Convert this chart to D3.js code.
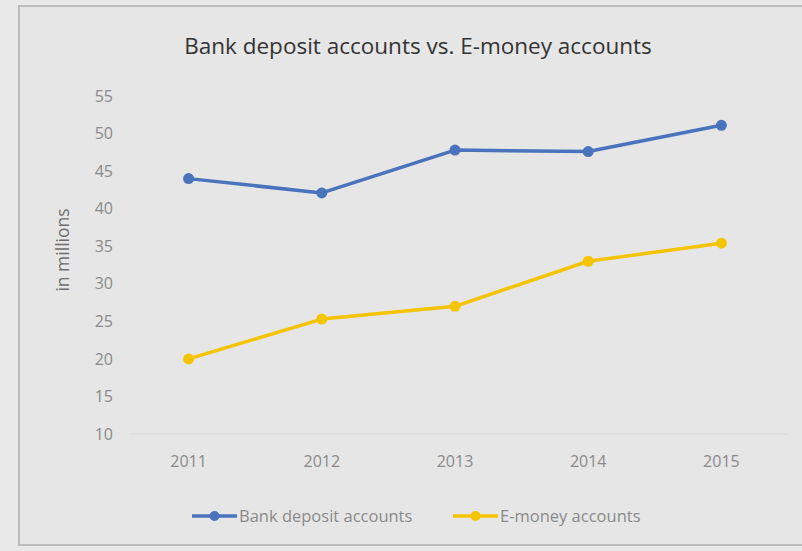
<!DOCTYPE html>
<html>
<head>
<meta charset="utf-8">
<script src="https://cdn.jsdelivr.net/npm/d3@7/dist/d3.min.js"></script>
<style>
  html, body { margin: 0; padding: 0; background: #e8e8e8; }
  svg { display: block; }
</style>
</head>
<body>
<svg id="chart" width="802" height="551"></svg>
<script>
// Account counts per year, in millions
const years = ["2011", "2012", "2013", "2014", "2015"];
const bankDeposit = [44.0, 42.1, 47.8, 47.6, 51.1];
const eMoney = [20.0, 25.3, 27.0, 33.0, 35.4];
const yTicks = [10, 15, 20, 25, 30, 35, 40, 45, 50, 55];
const seriesNames = ["Bank deposit accounts", "E-money accounts"];
const seriesColors = ["#4a73bd", "#f5c400"];

const svg = d3.select("#chart");
const W = 802, H = 551;
const font = "'Open Sans', 'DejaVu Sans', sans-serif";

// Frame
svg.append("rect").attr("x", 0).attr("y", 0).attr("width", W).attr("height", H).attr("fill", "#e9e9e9");
svg.append("rect").attr("x", 19).attr("y", 6).attr("width", W - 18).attr("height", H - 12)
  .attr("fill", "#e6e6e6").attr("stroke", "#bcbcbc").attr("stroke-width", 2);

const plot = { left: 122, right: 788, top: 96, bottom: 434 };

const x = d3.scaleBand().domain(years).range([plot.left, plot.right]);
const y = d3.scaleLinear().domain([10, 55]).range([plot.bottom, plot.top]);

// Title
svg.append("text")
  .attr("x", 418).attr("y", 54)
  .attr("text-anchor", "middle")
  .attr("font-family", font).attr("font-size", 22.5)
  .attr("fill", "#333")
  .text("Bank deposit accounts vs. E-money accounts");

// Y axis
const yAxis = d3.axisLeft(y).tickValues(yTicks).tickSize(0).tickPadding(8);
const gy = svg.append("g").attr("transform", `translate(${plot.left - 1},0)`).call(yAxis);
gy.select(".domain").remove();
gy.selectAll("text").attr("font-family", font).attr("font-size", 16).attr("fill", "#8a8a8a");

// Baseline
svg.append("line")
  .attr("x1", plot.left + 8).attr("x2", plot.right)
  .attr("y1", y(10)).attr("y2", y(10))
  .attr("stroke", "#dadada").attr("stroke-width", 1);

// X axis
const xAxis = d3.axisBottom(x).tickSize(0).tickPadding(22);
const gx = svg.append("g").attr("transform", `translate(0,${plot.bottom})`).call(xAxis);
gx.select(".domain").remove();
gx.selectAll("text").attr("font-family", font).attr("font-size", 16).attr("fill", "#8a8a8a");

// Y axis title
svg.append("text")
  .attr("transform", `translate(69,250) rotate(-90)`)
  .attr("text-anchor", "middle")
  .attr("font-family", font).attr("font-size", 17.5)
  .attr("fill", "#6e6e6e")
  .text("in millions");

// Series
const series = [bankDeposit, eMoney];
const cx = (d, i) => x(years[i]) + x.bandwidth() / 2;
const line = d3.line().x(cx).y(d => y(d));

series.forEach((vals, s) => {
  const g = svg.append("g");
  g.append("path").datum(vals)
    .attr("d", line)
    .attr("fill", "none")
    .attr("stroke", seriesColors[s])
    .attr("stroke-width", 3.5)
    .attr("stroke-linejoin", "round");
  g.selectAll("circle").data(vals).join("circle")
    .attr("cx", cx).attr("cy", d => y(d))
    .attr("r", 5.5)
    .attr("fill", seriesColors[s]);
});

// Legend
const legendItems = [{ x: 192 }, { x: 453 }];
legendItems.forEach((item, s) => {
  const g = svg.append("g").attr("transform", `translate(${item.x},516)`);
  g.append("line").attr("x1", 0).attr("x2", 45).attr("y1", 0).attr("y2", 0)
    .attr("stroke", seriesColors[s]).attr("stroke-width", 3.5);
  g.append("circle").attr("cx", 22.5).attr("cy", 0).attr("r", 5).attr("fill", seriesColors[s]);
  g.append("text").attr("x", 47).attr("y", 6)
    .attr("font-family", font).attr("font-size", 16.5).attr("fill", "#8a8a8a")
    .text(seriesNames[s]);
});
</script>
</body>
</html>
